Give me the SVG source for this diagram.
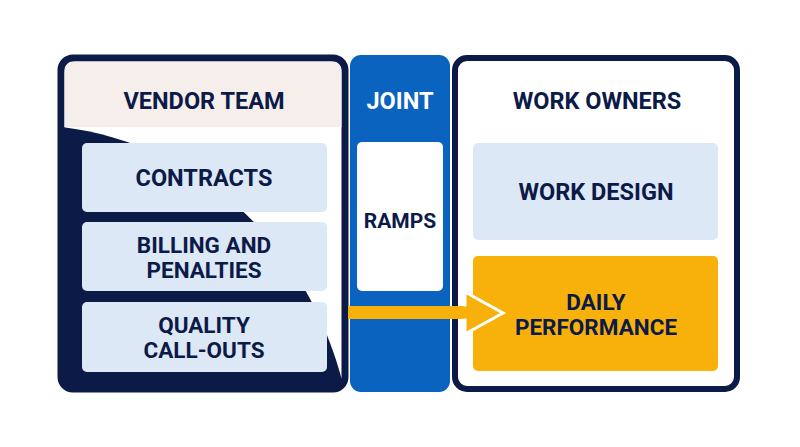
<svg xmlns="http://www.w3.org/2000/svg" width="800" height="447" viewBox="0 0 800 447">
<style>
.t{font-family:Roboto,"Liberation Sans",Arial,sans-serif;font-weight:700;font-size:23.5px;fill:#0c1a47;text-anchor:middle}
.m{font-size:22.5px}
.w{fill:#ffffff}
.box{fill:#dde8f6}
</style>
<rect width="800" height="447" fill="#ffffff"/>
<g id="vendor-team">
<rect x="61" y="58" width="284" height="331" rx="12" fill="#ffffff" stroke="#0c1a47" stroke-width="7"/>
<path d="M64.5,127 L341.5,127 L341.5,73 Q341.5,61.5 330,61.5 L76,61.5 Q64.5,61.5 64.5,73 Z" fill="#f6eeeb"/>
<path d="M62,127 C185,142 305,230 344,388 L62,388 Z" fill="#0c1a47"/>
<text class="t" x="204" y="108.5">VENDOR TEAM</text>
</g>
<g id="contracts">
<rect class="box" x="82" y="143" width="245" height="69" rx="5"/>
<text class="t" x="204" y="185.5">CONTRACTS</text>
</g>
<g id="billing">
<rect class="box" x="82" y="222" width="245" height="69" rx="5"/>
<text class="t m" x="204" y="252.5">BILLING AND</text>
<text class="t m" x="204" y="277.5">PENALTIES</text>
</g>
<g id="quality">
<rect class="box" x="82" y="302" width="245" height="70" rx="5"/>
<text class="t m" x="204" y="332.5">QUALITY</text>
<text class="t m" x="204" y="357.5">CALL-OUTS</text>
</g>
<g id="joint">
<rect x="350" y="55" width="100" height="337" rx="11" fill="#0a63be"/>
<text class="t w" x="400" y="108.5">JOINT</text>
</g>
<g id="ramps">
<rect x="357" y="142" width="86" height="149" rx="5" fill="#ffffff"/>
<text class="t" x="400" y="227.5" style="font-size:21px">RAMPS</text>
</g>
<g id="work-owners">
<rect x="455" y="58" width="282" height="331" rx="12" fill="#ffffff" stroke="#0c1a47" stroke-width="6"/>
<text class="t" x="597" y="108.5">WORK OWNERS</text>
</g>
<g id="work-design">
<rect class="box" x="473" y="143" width="245" height="97" rx="5"/>
<text class="t" x="596" y="200">WORK DESIGN</text>
</g>
<g id="daily-performance">
<rect x="473" y="256" width="245" height="115" rx="5" fill="#f8b10a"/>
<text class="t m" x="596" y="309.5">DAILY</text>
<text class="t m" x="596" y="334.5">PERFORMANCE</text>
</g>
<g id="connectors">
<rect x="348" y="306" width="120" height="13" fill="#f8b10a"/>
<path d="M465,292 L503,313 L465,334 Z" fill="#f8b10a" stroke="#ffffff" stroke-width="3" stroke-linejoin="miter"/>
<rect x="455" y="306.5" width="12" height="12" fill="#f8b10a"/>
</g>
</svg>
